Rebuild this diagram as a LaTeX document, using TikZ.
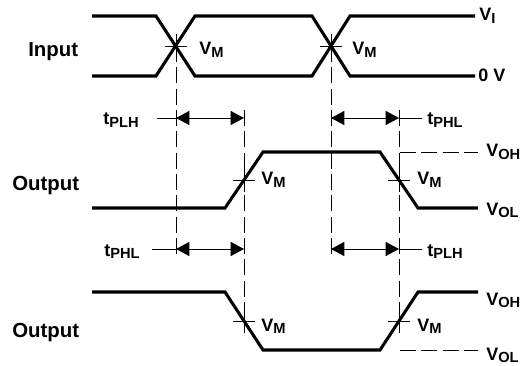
\documentclass[tikz,border=0pt]{standalone}
\usepackage{fontspec}
\setmainfont{Liberation Sans}
\usetikzlibrary{arrows.meta}
\newcommand{\lsub}[2]{#1\raisebox{-2.2pt}{\fontsize{11}{11}\selectfont #2}}
\begin{document}
\begin{tikzpicture}[x=0.75pt,y=-0.75pt,
  wave/.style={line width=2.3pt, line join=miter},
  guide/.style={line width=0.7pt, dash pattern=on 12pt off 4pt},
  tickline/.style={line width=0.7pt},
  dimline/.style={line width=0.7pt, {Triangle[length=10pt,width=10.5pt]}-{Triangle[length=10pt,width=10.5pt]}},
  leader/.style={line width=0.7pt},
  lbl/.style={font=\fontsize{13.5}{15}\selectfont\bfseries, inner sep=0pt, anchor=base west},
  sig/.style={font=\fontsize{15.3}{17}\selectfont\bfseries, inner sep=0pt, anchor=base west}]
\useasboundingbox (0,0) rectangle (523,366);

% crossing points
\coordinate (c1) at (176,46);
\coordinate (c2) at (331,46);
\coordinate (o1a) at (244,180);
\coordinate (o1b) at (399,180);
\coordinate (o2a) at (244,321);
\coordinate (o2b) at (399,321);

% guide line ends
\coordinate (g1e) at (176,257);
\coordinate (g2e) at (331,257);
\coordinate (g3s) at (244,110);
\coordinate (g4s) at (399,110);

% dimension arrow ends
\coordinate (a1L) at (176,118);
\coordinate (a1R) at (244,118);
\coordinate (a2L) at (331,118);
\coordinate (a2R) at (399,118);
\coordinate (a3L) at (176,249);
\coordinate (a3R) at (244,249);
\coordinate (a4L) at (331,249);
\coordinate (a4R) at (399,249);

% dashed guides
\draw[guide] (c1) -- (g1e);
\draw[guide] (c2) -- (g2e);
\draw[guide] (g3s) -- (o2a);
\draw[guide] (g4s) -- (o2b);
\coordinate (h1s) at (400,152);
\coordinate (h1e) at (478,152);
\coordinate (h2s) at (400,350);
\coordinate (h2e) at (478,350);
\draw[guide] (h1s) -- (h1e);
\draw[guide] (h2s) -- (h2e);

% input waveform
\draw[wave] (92,16) -- (156,16) -- (195,76) -- (312,76) -- (350,16) -- (475,16);
\draw[wave] (92,76) -- (156,76) -- (195,16) -- (312,16) -- (350,76) -- (475,76);

% output 1
\draw[wave] (92,208) -- (225,208) -- (263,152) -- (380,152) -- (418,208) -- (478,208);
% output 2
\draw[wave] (92,292) -- (225,292) -- (263,350) -- (380,350) -- (418,292) -- (478,292);

% crossing ticks
\foreach \p in {c1,c2,o1a,o1b,o2a,o2b}{
  \draw[tickline] ([xshift=-8]\p) -- ([xshift=8]\p);
  \draw[tickline] ([yshift=-9]\p) -- ([yshift=9]\p);
}

% labels
\node[sig] (in) at (28,57) {Input};
\node[sig] (out1) at (12,191) {Output};
\node[sig] (out2) at (12,337) {Output};

\node[lbl] (vm1) at (199,55) {\lsub{V}{M}};
\node[lbl] (vm2) at (352,55) {\lsub{V}{M}};
\node[lbl] (vi) at (479,21) {\lsub{V}{I}};
\node[lbl] (zv) at (478,82) {0 V};

\node[lbl] (vm3) at (261,185) {\lsub{V}{M}};
\node[lbl] (vm4) at (417,185) {\lsub{V}{M}};
\node[lbl] (voh1) at (486,157) {\lsub{V}{OH}};
\node[lbl] (vol1) at (486,215) {\lsub{V}{OL}};

\node[lbl] (vm5) at (261,331) {\lsub{V}{M}};
\node[lbl] (vm6) at (417,331) {\lsub{V}{M}};
\node[lbl] (voh2) at (486,305) {\lsub{V}{OH}};
\node[lbl] (vol2) at (486,360) {\lsub{V}{OL}};

\node[lbl] (t1) at (103,125) {\lsub{t}{PLH}};
\node[lbl] (t2) at (427,125) {\lsub{t}{PHL}};
\node[lbl] (t3) at (104,256) {\lsub{t}{PHL}};
\node[lbl] (t4) at (427,256) {\lsub{t}{PLH}};

% dimension arrows
\draw[dimline] (a1L) -- (a1R);
\draw[dimline] (a2L) -- (a2R);
\draw[dimline] (a3L) -- (a3R);
\draw[dimline] (a4L) -- (a4R);

% leaders
\coordinate (l1) at (157,118);
\coordinate (l2) at (422,118);
\coordinate (l3) at (152,249);
\coordinate (l4) at (422,249);
\draw[leader] (l1) -- (a1L);
\draw[leader] (a2R) -- (l2);
\draw[leader] (l3) -- (a3L);
\draw[leader] (a4R) -- (l4);
\end{tikzpicture}
\end{document}
